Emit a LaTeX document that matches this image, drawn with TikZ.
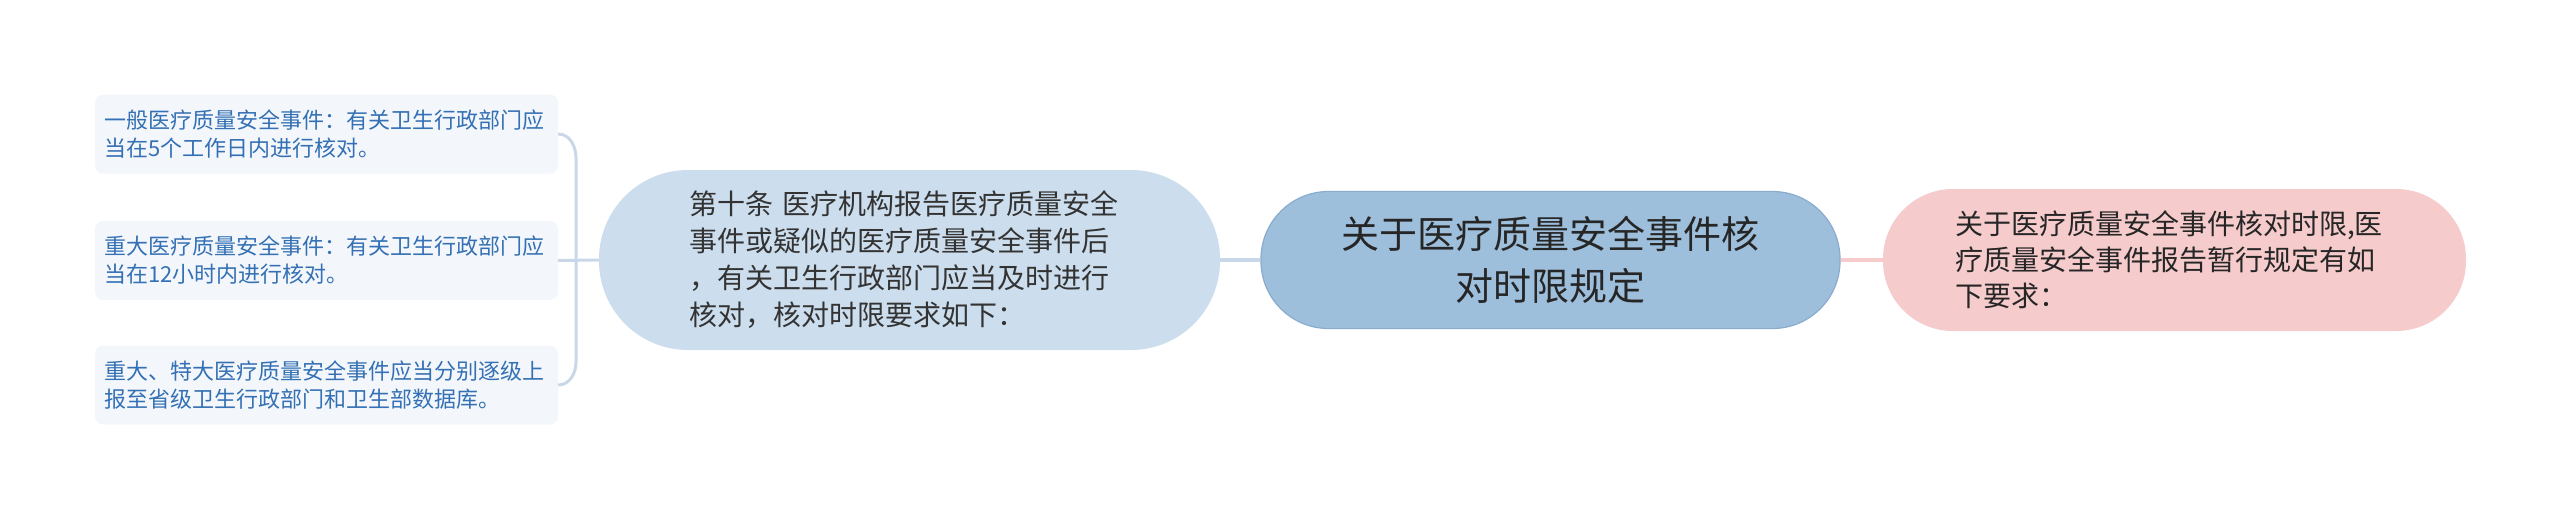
\documentclass[tikz,border=0pt]{standalone}
\usepackage{xcolor}
\usepackage{fontspec}
\setmainfont{Noto Sans CJK SC}
\usepackage{tikz}

\definecolor{leafFill}{HTML}{F3F7FC}
\definecolor{leafText}{HTML}{3470B3}
\definecolor{leafLine}{HTML}{C9D8E8}
\definecolor{midFill}{HTML}{CCDDED}
\definecolor{rootFill}{HTML}{9EBFDC}
\definecolor{rootEdge}{HTML}{89ABCD}
\definecolor{noteFill}{HTML}{F5CBCC}

\begin{document}
\begin{tikzpicture}[x = 1pt, y = -1pt,
	leaf/.style = {fill = leafFill, rounded corners = 8pt, minimum width = 463pt, minimum height = 79pt, text width = 444pt, inner xsep = 9.5pt, align = left, text = leafText, font = \fontsize{22}{28}\selectfont},
	pill/.style = {minimum height = #1, rounded corners = 0.5*#1 - 1pt},
	branch/.style = {line width = 3pt, color = leafLine},
	trunk/.style = {line width = 3.5pt}]
	\useasboundingbox (0, 0) rectangle (2560, 520);

	\node[pill = 137pt, fill = rootFill, draw = rootEdge, line width = 1.2pt, minimum width = 579pt, align = center, text = black!85, font = \fontsize{38}{52}\selectfont] (root) at (1550.5, 260) {关于医疗质量安全事件核\\对时限规定};

	\node[pill = 180pt, fill = midFill, minimum width = 621pt, text width = 441pt, align = left, text = black!80, font = \fontsize{28}{37}\selectfont] (clause) at (909.5, 260) {第十条 医疗机构报告医疗质量安全\\事件或疑似的医疗质量安全事件后\\，有关卫生行政部门应当及时进行\\核对，核对时限要求如下：};

	\node[pill = 142pt, fill = noteFill, minimum width = 583pt, text width = 439pt, align = left, text = black!85, font = \fontsize{28}{36}\selectfont] (intro) at (2174.5, 260) {关于医疗质量安全事件核对时限,医\\疗质量安全事件报告暂行规定有如\\下要求：};

	\node[leaf] (general) at (326.5, 134) {一般医疗质量安全事件：有关卫生行政部门应\\当在5个工作日内进行核对。};
	\node[leaf] (major) at (326.5, 260.5) {重大医疗质量安全事件：有关卫生行政部门应\\当在12小时内进行核对。};
	\node[leaf] (severe) at (326.5, 385) {重大、特大医疗质量安全事件应当分别逐级上\\报至省级卫生行政部门和卫生部数据库。};

	\coordinate (forkTop) at (576, 158);
	\coordinate (forkBot) at (576, 362);

	\draw[trunk, color = leafLine] (root) -- (clause);
	\draw[trunk, color = noteFill] (root) -- (intro);
	\draw[branch] (major.east) -- (clause.west);
	\draw[branch] (general.east) to[out = 0, in = 90] (forkTop) -- (forkBot) to[out = -90, in = 0] (severe.east);
\end{tikzpicture}
\end{document}
